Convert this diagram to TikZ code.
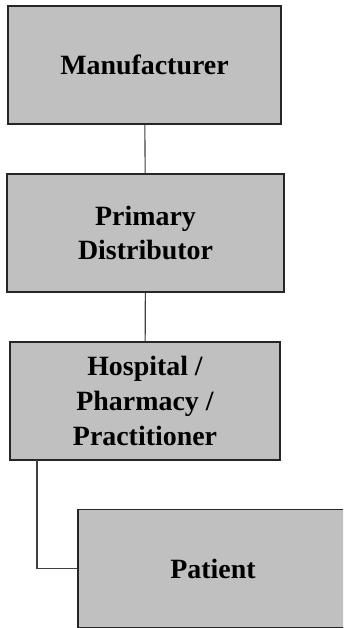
\documentclass[tikz,border=0pt]{standalone}
\usepackage{fontspec}
\setmainfont{Liberation Serif}
\usepackage{tikz}
\definecolor{boxgray}{HTML}{C0C0C0}
\tikzset{
    stage/.style={draw=black!85, fill=boxgray, line width=1.1bp,
        minimum width=273bp, minimum height=118bp, inner sep=0pt,
        align=center, font=\bfseries\fontsize{28}{35}\selectfont},
    link/.style={draw=black!75, line width=1.1bp}
}

\begin{document}
\begin{tikzpicture}[x=1bp, y=-1bp]
    \clip (0,0) rectangle (343,628);

    \node[stage] (MANU) at (144.5, 65) {Manufacturer};
    \node[stage, minimum width=277bp] (DIST) at (145.5, 233) {Primary\\Distributor};
    \node[stage, minimum width=270bp] (HOSP) at (145, 401) {Hospital /\\Pharmacy /\\Practitioner};
    \node[stage, minimum width=270bp] (PAT) at (213, 568.5) {Patient};

    \coordinate (DROP) at (37, 460);

    \draw[link] (MANU) -- (DIST);
    \draw[link] (DIST) -- (HOSP);
    \draw[link] (DROP) |- (PAT.west);
\end{tikzpicture}
\end{document}
